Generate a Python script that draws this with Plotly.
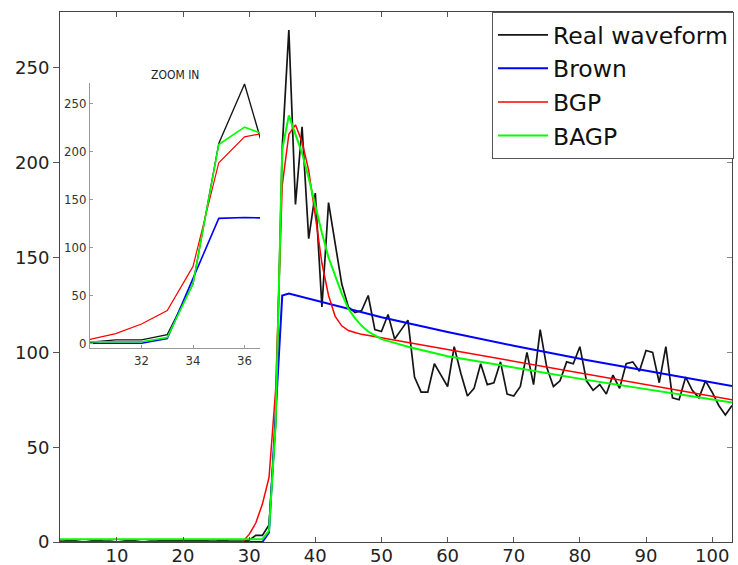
import plotly.graph_objects as go

# ---------------- data ----------------
x_real = list(range(1, 104))
y_real = [0.5, 0.5, 1, 0.5, 0, 0.5, 1, 0.5, 0.5, 0, 0.5, 1, 0.5, 0, 0.5, 0.5, 1, 1, 1, 1,
          1, 1, 1, 0.5, 0.5, 1, 0.5, 0.5, 0.5,                 # 1..29
          1, 3.5, 3.5, 9, 62, 208, 270, 178, 219, 160,          # 30..39
          184, 124, 179, 157, 136, 124, 121, 122, 130, 112,     # 40..49
          111, 120, 107, 112, 117, 87, 79, 79, 94, 88,          # 50..59
          82, 103, 89, 77, 81, 94, 83, 84, 95, 78,              # 60..69
          77, 82, 100, 83, 112, 92, 82, 85, 95, 94,             # 70..79
          103, 85, 80, 83, 78, 88, 81, 94, 95, 90,              # 80..89
          101, 100, 84, 103, 76, 75, 87, 80, 76, 85,            # 90..99
          79, 72, 67, 72]                                       # 100..103

x_brown = [1, 32, 33, 34, 35, 36, 40, 50, 60, 70, 81, 92, 103]
y_brown = [0, 0, 5, 67, 130, 131, 127.5, 118.5, 110.8, 103.5, 96, 89, 82.3]

x_bgp = [1, 29, 30, 31, 32, 33, 34, 35, 36, 37, 38, 39, 40, 41, 42, 43, 44, 45, 46, 47, 60, 81, 103]
y_bgp = [0, 0, 4, 10, 20, 34, 80, 188, 215, 220, 211, 196, 172, 147, 130, 119, 114, 111.5, 110.5,
         109.5, 101.5, 88.5, 75]

x_bagp = [1, 32, 33, 34, 35, 36, 37, 38, 39, 40, 41, 42, 43, 44, 45, 46, 47, 48, 49, 50, 52, 54,
          57, 60, 81, 103]
y_bagp = [1.5, 1.5, 6, 62, 207, 225, 215, 205, 192, 177, 163, 150, 140, 131, 123, 118, 114, 111,
          109, 107, 105, 103, 100.5, 98, 85.5, 73.5]

series_names = ["Real waveform", "Brown", "BGP", "BAGP"]
series_colors = ["#151515", "#0000ff", "#ff0000", "#00ff00"]
series_widths = [1.7, 2, 1.5, 2]
series_x = [x_real, x_brown, x_bgp, x_bagp]
series_y = [y_real, y_brown, y_bgp, y_bagp]

main_xticks = [10, 20, 30, 40, 50, 60, 70, 80, 90, 100]
main_yticks = [0, 50, 100, 150, 200, 250]
inset_xticks = [32, 34, 36]
inset_yticks = [0, 50, 100, 150, 200, 250]

# ---------------- figure ----------------
fig = go.Figure()
for name, col, w, xs, ys in zip(series_names, series_colors, series_widths, series_x, series_y):
    fig.add_trace(go.Scatter(x=xs, y=ys, mode="lines", name=name,
                             line=dict(color=col, width=w), xaxis="x", yaxis="y"))
for name, col, w, xs, ys in zip(series_names, series_colors, series_widths, series_x, series_y):
    fig.add_trace(go.Scatter(x=xs, y=ys, mode="lines", name=name, showlegend=False,
                             line=dict(color=col, width=w * 0.8), xaxis="x2", yaxis="y2"))
# invisible trace for right-side inner ticks
fig.add_trace(go.Scatter(x=[], y=[], xaxis="x", yaxis="y3", showlegend=False))

narrow = "Liberation Sans Narrow, DejaVu Sans Condensed, Arial Narrow, Liberation Sans, sans-serif"
inset_font = dict(family=narrow, size=13, color="#333")

fig.update_layout(
    width=738, height=565,
    margin=dict(l=60, r=6, t=12, b=23, autoexpand=False),
    paper_bgcolor="white", plot_bgcolor="white",
    font=dict(family="DejaVu Sans, Arial, sans-serif", size=18, color="#222"),
    xaxis=dict(domain=[0, 1], range=[1.4, 103], tickvals=main_xticks, ticks="inside",
               ticklen=5, tickcolor="#555", showline=True, linecolor="#444", linewidth=1,
               mirror="ticks", showgrid=False, zeroline=False, ticklabelstandoff=-3,
               automargin=False),
    yaxis=dict(domain=[0, 1], range=[0, 279.5], tickvals=main_yticks, ticks="outside",
               ticklen=6, tickcolor="#555", showline=True, linecolor="#444", linewidth=1,
               mirror=True, showgrid=False, zeroline=False, automargin=False),
    yaxis3=dict(overlaying="y", side="right", anchor="x", range=[0, 279.5],
                tickvals=main_yticks, ticks="inside", ticklen=5, tickcolor="#888",
                showticklabels=False, showline=False, showgrid=False, zeroline=False,
                automargin=False),
    xaxis2=dict(domain=[0.0446, 0.2976], anchor="y2", range=[30, 36.6], tickvals=inset_xticks,
                ticks="inside", ticklen=3, tickcolor="#999", showline=True, linecolor="#999",
                linewidth=1, showgrid=False, zeroline=False, tickfont=inset_font,
                automargin=False),
    yaxis2=dict(domain=[0.366, 0.866], anchor="x2", range=[-5, 271], tickvals=inset_yticks,
                ticks="inside", ticklen=3, tickcolor="#999", showline=True, linecolor="#999",
                linewidth=1, showgrid=False, zeroline=False, tickfont=inset_font,
                automargin=False),
    legend=dict(x=1.003, xanchor="right", y=1.0, yanchor="top", bgcolor="white",
                bordercolor="#555", borderwidth=1, font=dict(size=23.5, color="#111"),
                itemwidth=50, tracegroupgap=0),
    annotations=[dict(text="ZOOM IN", x=0.171, y=0.881, xref="paper", yref="paper",
                      xanchor="center", yanchor="middle", showarrow=False,
                      font=dict(family=narrow, size=12, color="#222"))],
)

fig.write_html("out.html")
